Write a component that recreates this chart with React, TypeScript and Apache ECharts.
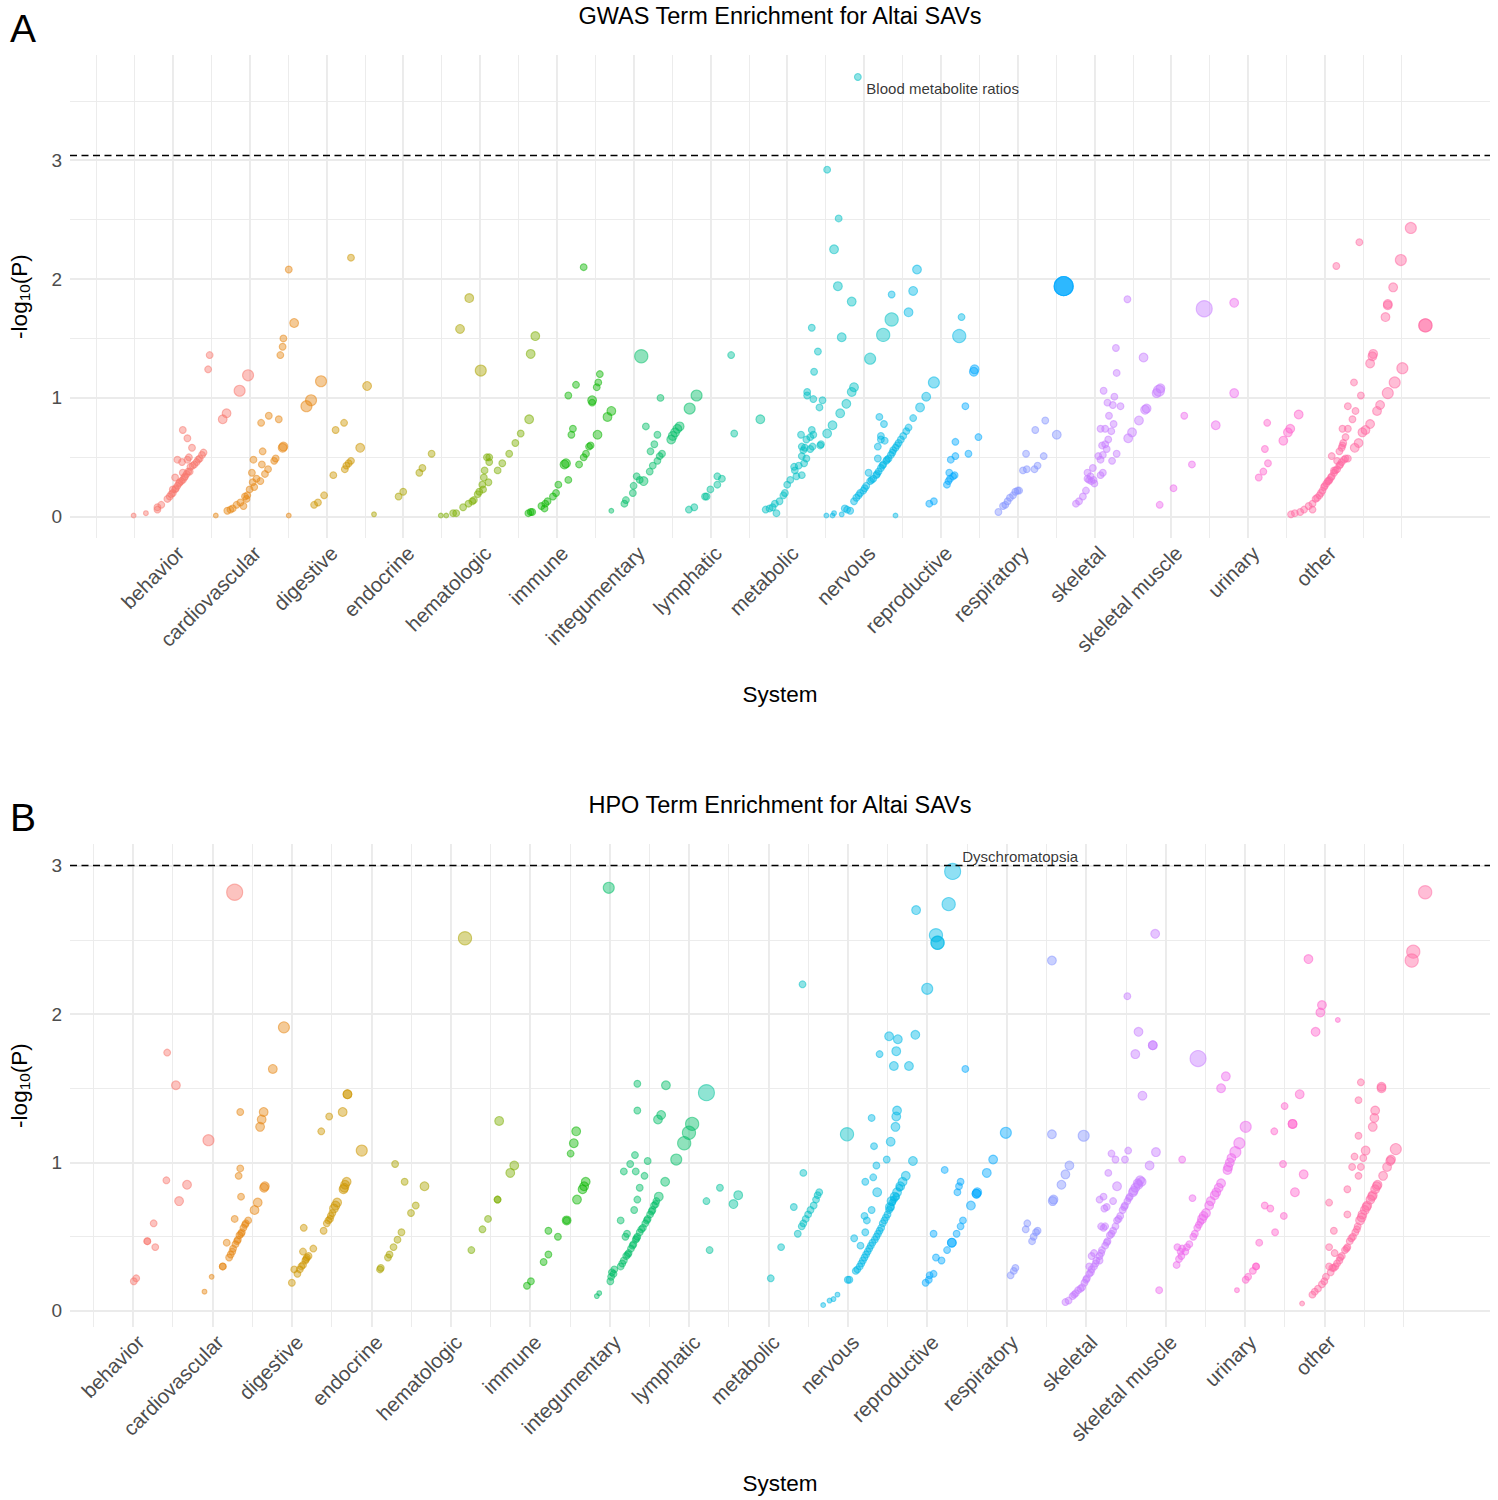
import { useEffect, useRef } from "react";
import * as echarts from "echarts";

const FONT = '"Liberation Sans", Arial, Helvetica, sans-serif';

const SYSTEMS = [
  "behavior", "cardiovascular", "digestive", "endocrine", "hematologic", "immune",
  "integumentary", "lymphatic", "metabolic", "nervous", "reproductive", "respiratory",
  "skeletal", "skeletal muscle", "urinary", "other",
];
const COLORS = [
  "#F8766D", "#E68613", "#CD9600", "#ABA300", "#7CAE00", "#0CB702", "#00BE67", "#00C19A",
  "#00BFC4", "#00B8E7", "#00A9FF", "#8494FF", "#C77CFF", "#ED68ED", "#FF61CC", "#FF68A1",
];

const X_TICKS = [1, 2, 3, 4, 5, 6, 7, 8, 9, 10, 11, 12, 13, 14, 15, 16];
const X_MINOR = [0, 0.5, 1.5, 2.5, 3.5, 4.5, 5.5, 6.5, 7.5, 8.5, 9.5, 10.5, 11.5, 12.5, 13.5, 14.5, 15.5, 16.5, 17];
const Y_TICKS = [0, 1, 2, 3];
const Y_MINOR_GWAS = [0.5, 1.5, 2.5, 3.5];
const Y_MINOR_HPO = [0.5, 1.5, 2.5];

const GWAS_THRESHOLD = 3.04;
const HPO_THRESHOLD = 3.0;
const GWAS_LABEL = { text: "Blood metabolite ratios", x: 10.03, y: 3.6 };
const HPO_LABEL = { text: "Dyschromatopsia", x: 11.44, y: 3.064 };

// [system position, -log10(P), size class]
const gwasBehavior = [
  [0.49,0.01,1],[0.65,0.03,1],[0.80,0.08,2],[0.80,0.06,2],[0.85,0.10,2],
  [0.93,0.15,2],[0.96,0.17,2],[1.00,0.20,2],[1.03,0.23,2],[1.06,0.26,2],[1.09,0.29,2],[1.13,0.31,2],[1.16,0.34,2],[1.20,0.38,2],[1.23,0.42,2],[1.28,0.44,2],[1.31,0.46,2],[1.35,0.49,2],[1.38,0.52,2],[1.40,0.54,2],
  [0.98,0.19,2],[1.04,0.24,2],[1.11,0.30,2],[1.18,0.36,2],[1.26,0.43,2],[1.33,0.48,2],[1.15,0.33,2],[1.08,0.28,2],
  [1.13,0.73,2],[1.19,0.66,2],[1.25,0.58,2],[1.06,0.48,2],[1.12,0.46,2],[1.19,0.48,2],[1.21,0.50,2],[1.03,0.33,2],[1.13,0.37,2],[1.22,0.38,2],[1.00,0.23,2],
  [1.48,1.36,2],[1.46,1.24,2],[1.65,0.82,3],[1.70,0.87,3],[1.87,1.06,4],[1.98,1.19,4],
];
const gwasCardiovascular = [
  [1.56,0.01,1],[1.71,0.05,2],[1.75,0.06,2],[1.78,0.07,2],[1.83,0.10,2],[1.88,0.12,2],[1.92,0.09,2],[1.94,0.17,2],[1.96,0.15,2],[1.97,0.18,2],
  [2.00,0.23,2],[2.04,0.29,2],[2.06,0.25,2],[2.09,0.32,2],[2.03,0.37,2],[2.05,0.48,2],[2.14,0.30,2],[2.16,0.44,2],[2.17,0.55,2],[2.20,0.36,2],
  [2.24,0.40,2],[2.15,0.79,2],[2.25,0.85,2],[2.38,0.82,2],[2.32,0.47,2],[2.34,0.49,2],[2.43,0.58,3],[2.44,0.59,3],[2.40,1.36,2],[2.43,1.43,2],
  [2.44,1.50,2],[2.51,2.08,2],[2.58,1.63,3],[2.74,0.93,4],[2.80,0.98,4],[2.93,1.14,4],[2.51,0.01,1],
];
const gwasDigestive = [
  [2.84,0.10,2],[2.89,0.12,2],[2.97,0.18,2],[3.09,0.35,2],[3.24,0.40,2],[3.26,0.43,2],[3.29,0.45,2],[3.32,0.47,2],
  [3.12,0.73,2],[3.23,0.79,2],[3.44,0.58,3],[3.32,2.18,2],[3.53,1.10,3],
];
const gwasEndocrine = [
  [3.62,0.02,1],[3.94,0.17,2],[4.00,0.21,2],[4.21,0.37,2],[4.25,0.41,2],[4.37,0.53,2],[4.74,1.58,3],[4.86,1.84,3],[5.01,1.23,4],
];
const gwasHematologic = [
  [4.49,0.01,1],[4.56,0.01,1],[4.65,0.03,2],[4.69,0.03,2],[4.78,0.08,2],[4.85,0.11,2],[4.90,0.13,2],[4.92,0.14,2],[4.97,0.19,2],[4.99,0.21,2],
  [5.04,0.23,2],[5.03,0.27,2],[5.05,0.33,2],[5.06,0.39,2],[5.11,0.29,2],[5.12,0.46,2],[5.09,0.50,2],[5.12,0.50,2],[5.23,0.39,2],[5.29,0.45,2],
  [5.38,0.53,2],[5.46,0.62,2],[5.53,0.70,2],[5.64,0.82,3],[5.66,1.37,3],[5.72,1.52,3],
];
const gwasImmune = [
  [5.63,0.03,2],[5.66,0.04,2],[5.68,0.04,2],[5.80,0.09,2],[5.84,0.07,2],[5.85,0.11,2],[5.88,0.13,2],[5.95,0.17,2],[5.99,0.20,2],[6.02,0.27,2],
  [6.10,0.44,3],[6.12,0.45,3],[6.15,0.31,2],[6.29,0.44,2],[6.35,0.50,2],[6.38,0.53,2],[6.42,0.59,2],[6.44,0.60,2],[6.53,0.69,3],[6.19,0.69,2],
  [6.21,0.74,2],[6.15,1.02,2],[6.25,1.11,2],[6.46,0.98,3],[6.46,0.96,2],[6.52,1.09,2],[6.54,1.13,2],[6.56,1.20,2],[6.35,2.10,2],[6.66,0.84,3],[6.71,0.89,3],
];
const gwasIntegumentary = [
  [6.71,0.05,1],[6.88,0.11,2],[6.90,0.14,2],[6.99,0.20,2],[7.00,0.26,2],[7.04,0.34,2],[7.08,0.31,2],[7.13,0.30,3],[7.21,0.38,2],[7.25,0.43,2],
  [7.31,0.47,2],[7.34,0.51,2],[7.37,0.53,2],[7.22,0.55,2],[7.27,0.61,2],[7.31,0.69,2],[7.16,0.76,2],[7.49,0.65,3],[7.51,0.68,3],[7.54,0.71,3],
  [7.57,0.74,3],[7.60,0.76,3],[7.35,1.00,2],[7.10,1.35,5],[7.73,0.91,4],[7.82,1.02,4],
];
const gwasLymphatic = [
  [7.72,0.06,2],[7.79,0.08,2],[7.93,0.17,2],[7.95,0.17,2],[8.00,0.23,2],[8.09,0.27,2],[8.09,0.34,2],[8.15,0.32,2],[8.27,1.36,2],[8.31,0.70,2],[8.65,0.82,3],
];
const gwasMetabolic = [
  [8.72,0.06,2],[8.77,0.07,2],[8.81,0.08,2],[8.86,0.03,2],[8.84,0.11,2],[8.90,0.13,2],[8.95,0.18,2],[8.97,0.20,2],[9.00,0.27,2],[9.04,0.31,2],
  [9.09,0.42,2],[9.10,0.39,2],[9.15,0.43,2],[9.19,0.35,2],[9.12,0.34,2],[9.22,0.45,2],[9.25,0.49,2],[9.30,0.57,2],[9.33,0.59,2],[9.19,0.51,2],
  [9.21,0.56,2],[9.23,0.58,2],[9.19,0.59,2],[9.25,0.65,2],[9.30,0.67,2],[9.32,0.73,2],[9.34,0.69,2],[9.43,0.60,2],[9.44,0.61,2],[9.18,0.69,2],
  [9.26,1.05,2],[9.26,1.02,2],[9.34,0.99,2],[9.42,0.92,2],[9.46,0.98,2],[9.35,1.22,2],[9.40,1.39,2],[9.32,1.59,2],[9.52,0.70,3],[9.59,0.77,3],
  [9.69,0.87,3],[9.77,0.95,3],[9.84,1.05,3],[9.87,1.09,3],[9.71,1.51,3],[9.66,1.94,3],[9.84,1.81,3],[9.61,2.25,3],[9.67,2.51,2],[10.08,1.33,4],
  [10.25,1.53,5],[10.36,1.66,5],[9.52,2.92,2],[9.92,3.70,2],
];
const gwasNervous = [
  [9.51,0.01,1],[9.59,0.01,1],[9.61,0.03,1],[9.71,0.02,1],[9.75,0.07,2],[9.78,0.06,2],[9.82,0.05,2],
  [9.87,0.13,2],[9.90,0.16,2],[9.95,0.20,2],[9.99,0.22,2],[10.03,0.26,2],[10.08,0.30,2],[10.12,0.32,2],[10.16,0.35,2],[10.19,0.38,2],
  [10.22,0.41,2],[10.25,0.44,2],[10.29,0.47,2],[10.32,0.49,2],[10.35,0.52,2],[10.38,0.56,2],[10.41,0.58,2],[10.45,0.62,2],[10.51,0.68,2],
  [9.93,0.18,2],[10.01,0.24,2],[10.10,0.31,2],[10.17,0.36,2],[10.24,0.43,2],[10.30,0.48,2],[10.37,0.54,2],[10.43,0.60,2],[10.48,0.65,2],
  [10.55,0.72,2],[10.58,0.75,2],[10.64,0.83,2],[10.73,0.92,3],[10.81,1.01,3],[10.91,1.13,4],
  [10.06,0.37,2],[10.18,0.49,2],[10.18,0.59,2],[10.22,0.65,2],[10.27,0.64,2],[10.20,0.84,2],[10.26,0.78,2],[10.22,0.68,2],[10.36,1.87,2],
  [10.41,0.01,1],[10.58,1.72,3],[10.64,1.90,3],[10.69,2.08,3],[11.24,1.52,5],[11.27,1.68,2],
];
const gwasReproductive = [
  [10.85,0.11,2],[10.91,0.13,2],[11.08,0.27,2],[11.10,0.30,2],[11.12,0.32,2],[11.16,0.34,2],[11.18,0.35,2],[11.11,0.37,2],[11.13,0.48,2],
  [11.19,0.51,2],[11.19,0.63,2],[11.36,0.53,2],[11.49,0.67,2],[11.32,0.93,2],[11.43,1.22,3],[11.44,1.24,3],[12.60,1.94,7],[12.60,1.94,7],[12.60,1.94,7],
];
const gwasRespiratory = [
  [11.75,0.04,2],[11.81,0.09,2],[11.84,0.10,2],[11.87,0.13,2],[11.90,0.16,2],[11.94,0.18,2],[11.97,0.21,2],[12.00,0.22,2],[12.02,0.22,2],
  [12.07,0.39,2],[12.12,0.40,2],[12.22,0.40,2],[12.26,0.43,2],[12.11,0.53,2],[12.34,0.51,2],[12.23,0.73,2],[12.36,0.81,2],[12.51,0.69,3],
];
const gwasSkeletal = [
  [12.76,0.11,2],[12.80,0.13,2],[12.85,0.17,2],[12.89,0.22,2],[12.91,0.37,2],[12.93,0.31,2],[12.96,0.30,2],[12.99,0.31,2],[12.95,0.34,2],
  [13.00,0.28,2],[12.91,0.32,2],[12.98,0.41,2],[13.05,0.51,2],[13.08,0.48,2],[13.11,0.52,2],[13.10,0.60,2],[13.14,0.61,2],[13.16,0.57,2],
  [13.08,0.35,2],[13.11,0.37,2],[13.08,0.74,2],[13.14,0.74,2],[13.22,0.72,2],[13.18,0.65,2],[13.19,0.85,2],[13.25,0.78,2],[13.23,0.47,2],
  [13.29,0.53,2],[13.12,1.06,2],[13.17,0.96,2],[13.26,1.01,2],[13.34,0.93,2],[13.24,0.94,2],[13.28,1.42,2],[13.29,1.21,2],[13.43,1.83,2],
  [13.44,0.66,3],[13.49,0.71,3],[13.58,0.81,3],[13.66,0.90,3],[13.68,0.91,3],[13.81,1.04,3],[13.84,1.06,4],[13.86,1.08,3],[13.64,1.34,3],[14.43,1.75,6],
];
const gwasSkeletalMuscle = [
  [13.85,0.10,2],[14.03,0.24,2],[14.17,0.85,2],[14.27,0.44,2],[14.58,0.77,3],[14.82,1.04,3],[14.82,1.80,3],
];
const gwasUrinary = [
  [15.14,0.33,2],[15.20,0.38,2],[15.22,0.57,2],[15.26,0.45,2],[15.25,0.79,2],[15.46,0.64,3],[15.52,0.71,3],[15.55,0.74,3],[15.66,0.86,3],
];
const gwasOther = [
  [15.56,0.02,2],[15.61,0.03,2],[15.68,0.04,2],[15.73,0.06,2],[15.79,0.09,2],[15.84,0.06,2],[15.84,0.11,2],[15.88,0.15,2],[15.90,0.16,2],
  [15.93,0.18,2],[15.95,0.20,2],[15.97,0.22,2],[15.99,0.25,2],[16.00,0.26,2],[16.02,0.28,2],[16.04,0.30,2],[16.06,0.31,2],[16.08,0.33,2],
  [16.09,0.34,2],[16.12,0.37,2],[16.14,0.39,2],[16.16,0.40,2],[16.19,0.43,2],[16.22,0.46,2],[16.25,0.48,2],[16.30,0.49,2],
  [16.20,0.44,2],[16.27,0.49,2],[16.05,0.30,2],
  [16.09,0.51,2],[16.12,0.39,2],[16.16,0.47,2],[16.19,0.55,2],[16.22,0.58,2],[16.23,0.60,2],[16.24,0.62,2],[16.23,0.74,2],[16.30,0.74,2],
  [16.27,0.67,2],[16.36,0.82,2],[16.30,0.93,2],[16.40,0.89,2],[16.38,1.13,2],[16.47,1.02,2],
  [16.39,0.58,3],[16.44,0.62,3],[16.49,0.71,3],[16.53,0.73,3],[16.59,0.78,3],[16.68,0.89,3],[16.72,0.94,3],[16.82,1.04,4],[16.91,1.13,4],
  [17.01,1.25,4],[16.59,1.29,3],[16.62,1.35,3],[16.63,1.37,3],[16.79,1.68,3],[16.82,1.78,3],[16.82,1.79,3],[16.89,1.93,3],[16.99,2.16,4],
  [17.12,2.43,4],[16.45,2.31,2],[16.15,2.11,2],[17.31,1.61,5],[17.31,1.61,5],
];

const hpoBehavior = [
  [1.01,0.20,2],[1.04,0.22,2],[1.18,0.47,2],[1.18,0.47,2],[1.26,0.59,2],[1.28,0.43,2],[1.42,0.88,2],[1.58,0.74,3],[1.68,0.85,3],
  [1.43,1.74,2],[1.54,1.52,3],[1.95,1.15,4],[2.28,2.82,6],
];
const hpoCardiovascular = [
  [1.90,0.13,1],[1.99,0.23,1],[2.13,0.30,2],[2.13,0.30,2],[2.18,0.46,2],[2.21,0.36,2],[2.23,0.38,2],[2.26,0.42,2],[2.29,0.45,2],[2.32,0.48,2],
  [2.34,0.51,2],[2.37,0.53,2],[2.39,0.56,2],[2.42,0.59,2],[2.45,0.61,2],[2.28,0.62,2],[2.36,0.77,2],[2.33,0.91,2],[2.35,0.96,2],[2.53,0.68,3],
  [2.25,0.40,2],[2.31,0.47,2],[2.36,0.52,2],[2.41,0.58,2],
  [2.57,0.73,3],[2.65,0.83,3],[2.66,0.84,3],[2.35,1.34,2],[2.60,1.24,3],[2.62,1.29,3],[2.645,1.34,3],[2.76,1.63,3],[2.90,1.91,4],
];
const hpoDigestive = [
  [3.00,0.19,2],[3.03,0.28,2],[3.07,0.25,2],[3.10,0.28,2],[3.14,0.31,2],[3.17,0.34,2],[3.19,0.36,2],[3.21,0.37,2],[3.14,0.40,2],[3.15,0.56,2],
  [3.12,0.30,2],[3.18,0.35,2],[3.48,0.62,2],[3.53,0.69,3],
  [3.27,0.42,2],[3.40,0.54,2],[3.44,0.59,2],[3.46,0.61,2],[3.49,0.64,2],[3.51,0.66,2],[3.55,0.71,3],[3.57,0.73,3],[3.65,0.82,3],[3.66,0.83,3],
  [3.67,0.85,3],[3.69,0.87,3],[3.37,1.21,2],[3.47,1.31,2],[3.64,1.34,3],[3.70,1.46,3],[3.70,1.46,3],[3.88,1.08,4],
];
const hpoEndocrine = [
  [4.11,0.28,2],[4.12,0.29,2],[4.21,0.36,2],[4.23,0.38,2],[4.28,0.43,2],[4.33,0.48,2],[4.38,0.53,2],[4.30,0.99,2],[4.42,0.87,2],[4.50,0.66,2],
  [4.56,0.71,2],[4.67,0.84,3],[5.18,2.51,5],
];
const hpoHematologic = [
  [5.26,0.41,2],[5.40,0.55,2],[5.47,0.62,2],[5.59,0.75,2],[5.59,0.75,2],[5.61,1.28,3],[5.75,0.93,3],[5.80,0.98,3],
];
const hpoImmune = [
  [5.96,0.17,2],[6.01,0.20,2],[6.17,0.33,2],[6.23,0.38,2],[6.23,0.54,2],[6.35,0.50,2],[6.46,0.61,3],[6.46,0.61,2],[6.59,0.75,3],[6.66,0.82,3],
  [6.68,0.84,3],[6.70,0.87,3],[6.51,1.06,2],[6.55,1.13,3],[6.58,1.21,3],
];
const hpoIntegumentary = [
  [6.84,0.10,1],[6.87,0.12,1],[7.01,0.20,2],[7.02,0.23,2],[7.03,0.26,2],[7.05,0.25,2],[7.06,0.28,2],
  [7.14,0.30,2],[7.18,0.34,2],[7.21,0.37,2],[7.24,0.39,2],[7.27,0.42,2],[7.30,0.45,2],[7.33,0.48,2],[7.35,0.50,2],[7.38,0.53,2],[7.42,0.56,2],
  [7.45,0.59,2],[7.48,0.62,2],[7.51,0.65,2],[7.54,0.68,2],[7.56,0.71,2],[7.59,0.74,2],[7.62,0.77,3],
  [7.16,0.32,2],[7.23,0.38,2],[7.29,0.44,2],[7.34,0.49,2],[7.40,0.55,2],[7.47,0.61,2],[7.53,0.67,2],[7.58,0.72,2],
  [7.14,0.61,2],[7.20,0.50,2],[7.22,0.52,2],[7.31,0.68,2],[7.35,0.75,2],[7.38,0.83,2],[7.44,0.91,2],[7.33,0.94,2],[7.18,0.94,2],[7.26,0.99,2],
  [7.32,1.05,2],[7.48,1.01,2],[7.35,1.35,2],[7.35,1.53,2],[7.61,1.29,3],[7.65,1.32,3],[7.71,1.52,3],[7.70,0.87,3],[6.99,2.85,4],[7.84,1.02,4],
  [7.94,1.13,5],[8.00,1.20,5],[8.04,1.26,5],
];
const hpoLymphatic = [
  [8.22,1.47,6],[8.22,0.74,2],[8.26,0.41,2],[8.39,0.83,2],[8.56,0.72,3],[8.62,0.78,3],
];
const hpoMetabolic = [
  [9.03,0.22,2],[9.16,0.43,2],[9.32,0.70,2],[9.37,0.52,2],[9.43,2.20,2],[9.44,0.93,2],[9.42,0.57,2],[9.44,0.59,2],[9.47,0.62,2],[9.50,0.65,2],
  [9.53,0.68,2],[9.57,0.71,2],[9.60,0.75,2],[9.62,0.78,2],[9.64,0.80,2],[9.99,1.19,5],
];
const hpoNervous = [
  [9.69,0.04,1],[9.77,0.07,1],[9.82,0.08,1],[9.87,0.11,1],[10.00,0.21,2],[10.02,0.21,2],
  [10.10,0.27,2],[10.15,0.30,2],[10.19,0.34,2],[10.23,0.38,2],[10.27,0.42,2],[10.31,0.46,2],[10.36,0.50,2],[10.40,0.54,2],[10.44,0.59,2],
  [10.48,0.63,2],[10.52,0.68,2],[10.56,0.73,2],[10.61,0.77,2],[10.65,0.83,2],[10.69,0.87,3],[10.73,0.91,3],
  [10.12,0.28,2],[10.17,0.32,2],[10.21,0.36,2],[10.25,0.40,2],[10.29,0.44,2],[10.34,0.48,2],[10.38,0.52,2],[10.42,0.56,2],[10.46,0.61,2],
  [10.50,0.65,2],[10.54,0.70,2],[10.58,0.75,2],
  [10.53,0.70,3],[10.55,0.74,3],[10.59,0.77,3],[10.62,0.80,3],[10.66,0.84,3],
  [10.08,0.49,2],[10.16,0.44,2],[10.22,0.53,2],[10.21,0.64,2],[10.24,0.61,2],[10.30,0.68,2],[10.22,0.87,2],[10.32,0.90,2],[10.37,0.80,3],
  [10.36,0.98,2],[10.33,1.11,2],[10.30,1.30,2],[10.49,1.02,2],[10.54,1.14,3],[10.60,1.24,3],[10.61,1.31,3],[10.62,1.35,3],[10.82,1.01,3],
  [10.40,1.73,2],[10.52,1.85,3],[10.63,1.83,3],[10.61,1.75,3],[10.58,1.65,3],[10.77,1.65,3],[10.85,1.86,3],[10.86,2.70,3],[11.00,2.17,4],
  [11.11,2.53,5],[11.13,2.48,5],[11.13,2.48,5],[11.27,2.74,5],[11.32,2.96,6],
];
const hpoReproductive = [
  [10.98,0.19,2],[11.02,0.21,2],[11.03,0.24,2],[11.08,0.25,2],[11.11,0.36,2],[11.18,0.34,2],[11.08,0.52,2],[11.25,0.41,2],[11.31,0.46,3],
  [11.31,0.46,3],[11.37,0.52,2],[11.42,0.57,2],[11.45,0.61,2],[11.55,0.71,3],[11.62,0.79,3],[11.62,0.79,3],[11.63,0.80,3],[11.38,0.80,2],
  [11.40,0.84,2],[11.42,0.87,2],[11.22,0.95,2],[11.48,1.63,2],[11.75,0.93,3],[11.83,1.02,3],[11.99,1.20,4],
];
const hpoRespiratory = [
  [12.05,0.24,2],[12.09,0.27,2],[12.11,0.29,2],[12.24,0.55,2],[12.26,0.59,2],[12.32,0.47,2],[12.34,0.50,2],[12.37,0.53,2],[12.39,0.54,2],
  [12.57,2.36,3],[12.57,1.19,3],[12.58,0.74,3],[12.59,0.75,3],[12.69,0.85,3],[12.74,0.92,3],[12.79,0.98,3],[12.97,1.18,4],
];
const hpoSkeletal = [
  [12.74,0.06,2],[12.78,0.07,2],
  [12.83,0.10,2],[12.87,0.12,2],[12.90,0.14,2],[12.95,0.16,2],[12.98,0.19,2],[13.01,0.22,2],[13.04,0.25,2],[13.07,0.28,2],[13.10,0.30,2],
  [13.13,0.34,2],[13.17,0.37,2],[13.20,0.41,2],[13.24,0.44,2],[13.27,0.47,2],[13.30,0.51,2],[13.34,0.54,2],[13.37,0.57,2],[13.39,0.61,2],
  [13.43,0.64,2],[13.46,0.68,2],[13.49,0.71,2],[13.52,0.74,2],[13.55,0.77,2],[13.59,0.80,3],[13.62,0.83,3],[13.65,0.86,3],[13.68,0.88,3],
  [12.85,0.11,2],[12.93,0.15,2],[13.00,0.21,2],[13.06,0.26,2],[13.12,0.32,2],[13.19,0.39,2],[13.26,0.46,2],[13.32,0.52,2],[13.41,0.62,2],
  [13.48,0.70,2],[13.54,0.76,2],[13.60,0.81,3],[13.66,0.85,3],
  [13.04,0.30,2],[13.07,0.37,2],[13.10,0.39,2],[13.17,0.34,2],[13.19,0.57,2],[13.22,0.56,2],[13.24,0.57,2],[13.23,0.69,2],[13.26,0.70,2],
  [13.34,0.74,2],[13.17,0.75,2],[13.22,0.77,2],[13.39,0.84,3],[13.28,0.93,2],[13.32,1.06,2],[13.37,1.02,2],[13.49,1.02,2],[13.53,1.08,2],
  [13.70,0.87,3],[13.80,0.98,3],[13.88,1.07,3],
  [13.52,2.12,2],[13.66,1.88,3],[13.62,1.73,3],[13.84,1.79,3],[13.84,1.79,3],[13.71,1.45,3],[13.87,2.54,3],[14.41,1.70,6],
];
const hpoSkeletalMuscle = [
  [13.92,0.14,2],[14.14,0.31,2],[14.17,0.35,2],[14.15,0.43,2],[14.19,0.40,2],[14.21,0.42,2],[14.20,0.37,2],[14.25,0.40,2],[14.27,0.43,2],
  [14.30,0.45,2],[14.37,0.52,2],[14.40,0.56,2],[14.44,0.60,2],[14.48,0.64,3],[14.51,0.66,3],[14.57,0.74,3],[14.34,0.76,2],[14.64,0.80,3],
  [14.35,0.50,2],[14.42,0.58,2],[14.46,0.62,3],[14.55,0.71,3],[14.62,0.78,3],[14.81,1.00,3],
  [14.67,0.83,3],[14.70,0.86,3],[14.78,0.95,3],[14.79,0.97,3],[14.83,1.03,3],[14.88,1.07,4],[14.93,1.13,4],[15.01,1.24,4],[14.21,1.02,2],
  [14.70,1.50,3],[14.76,1.58,3],
];
const hpoUrinary = [
  [14.90,0.14,1],[15.01,0.21,2],[15.04,0.23,2],[15.10,0.27,2],[15.14,0.30,2],[15.14,0.30,2],[15.18,0.46,2],[15.25,0.71,2],[15.32,0.69,2],
  [15.38,0.53,2],[15.49,0.64,2],[15.37,1.21,2],[15.48,0.99,2],[15.50,1.38,2],[15.60,1.26,3],[15.60,1.26,3],[15.63,0.80,3],[15.69,1.46,3],
  [15.74,0.92,3],[15.80,2.37,3],[15.97,2.06,3],[15.95,2.01,3],[15.89,1.88,3],[16.17,1.96,1],
];
const hpoOther = [
  [15.72,0.05,1],[15.85,0.11,2],[15.88,0.13,2],[15.92,0.15,2],[15.97,0.18,2],[16.00,0.20,2],[16.02,0.23,2],
  [16.08,0.26,2],[16.12,0.29,2],[16.16,0.32,2],[16.19,0.34,2],[16.22,0.37,2],[16.26,0.41,2],[16.29,0.43,2],[16.32,0.47,2],[16.36,0.50,2],
  [16.39,0.53,2],[16.42,0.57,2],[16.45,0.61,3],[16.48,0.65,3],[16.51,0.68,3],[16.54,0.71,3],[16.58,0.75,3],[16.61,0.78,3],[16.64,0.82,3],
  [16.67,0.85,3],[16.74,0.91,3],[16.79,0.97,3],[16.83,1.01,3],[16.84,1.02,3],[16.90,1.09,4],
  [16.14,0.30,2],[16.20,0.36,2],[16.28,0.42,2],[16.34,0.49,2],[16.41,0.55,2],[16.47,0.63,3],[16.53,0.70,3],[16.60,0.77,3],[16.66,0.84,3],
  [16.06,0.73,2],[16.06,0.43,2],[16.12,0.54,2],[16.13,0.39,2],[16.06,0.30,2],[16.10,0.29,2],[16.29,0.82,2],[16.29,0.65,2],[16.35,0.97,2],
  [16.38,1.04,2],[16.43,0.91,2],[16.46,0.97,2],[16.49,1.03,2],[16.52,1.08,3],[16.43,1.18,2],[16.43,1.42,2],[16.46,1.54,2],[16.61,1.24,3],
  [16.63,1.30,3],[16.64,1.35,3],[16.72,1.51,3],[16.72,1.50,3],
  [17.27,2.82,5],[17.12,2.42,5],[17.10,2.36,5],
];

const GWAS_GROUPS = [
  gwasBehavior, gwasCardiovascular, gwasDigestive, gwasEndocrine, gwasHematologic, gwasImmune, gwasIntegumentary,
  gwasLymphatic, gwasMetabolic, gwasNervous, gwasReproductive, gwasRespiratory, gwasSkeletal, gwasSkeletalMuscle,
  gwasUrinary, gwasOther,
];
const HPO_GROUPS = [
  hpoBehavior, hpoCardiovascular, hpoDigestive, hpoEndocrine, hpoHematologic, hpoImmune, hpoIntegumentary,
  hpoLymphatic, hpoMetabolic, hpoNervous, hpoReproductive, hpoRespiratory, hpoSkeletal, hpoSkeletalMuscle,
  hpoUrinary, hpoOther,
];

const SIZE_PX = [0, 4.8, 6.8, 8.8, 11, 13.2, 16, 19];

function rgba(hex: string, a: number) {
  const n = parseInt(hex.slice(1), 16);
  return `rgba(${(n >> 16) & 255},${(n >> 8) & 255},${n & 255},${a})`;
}

function isInt(v: number) {
  return Math.abs(v - Math.round(v)) < 1e-6;
}

function buildOption() {
  const panels = [
    {
      top: 55, xMin: -0.3385, xMax: 18.151, yMin: -0.179, yMax: 3.885,
      groups: GWAS_GROUPS, threshold: GWAS_THRESHOLD, label: GWAS_LABEL, yMinor: Y_MINOR_GWAS,
    },
    {
      top: 844, xMin: 0.2065, xMax: 18.086, yMin: -0.108, yMax: 3.145,
      groups: HPO_GROUPS, threshold: HPO_THRESHOLD, label: HPO_LABEL, yMinor: Y_MINOR_HPO,
    },
  ];
  const grid: any[] = [];
  const xAxis: any[] = [];
  const yAxis: any[] = [];
  const series: any[] = [];
  const GRID_COLOR = "#EBEBEB";

  panels.forEach((p, i) => {
    grid.push({ left: 70, top: p.top, width: 1420, height: 483, containLabel: false, outerBoundsMode: "none" });
    xAxis.push({
      type: "value", gridIndex: i, min: p.xMin, max: p.xMax, minInterval: 1, maxInterval: 1,
      axisLine: { show: false }, axisTick: { show: false }, splitLine: { show: false },
      axisLabel: {
        show: true, customValues: X_TICKS, interval: 0, hideOverlap: false, rotate: 45,
        align: "right", verticalAlign: "top", margin: 4, fontSize: 20.5, color: "#4D4D4D", fontFamily: FONT,
        formatter: (v: number) => {
          const k = Math.round(v);
          return isInt(v) && k >= 1 && k <= SYSTEMS.length ? SYSTEMS[k - 1] : "";
        },
      },
      name: "System", nameLocation: "middle", nameGap: 145,
      nameTextStyle: { fontSize: 22.5, color: "#000", fontFamily: FONT },
    });
    yAxis.push({
      type: "value", gridIndex: i, min: p.yMin, max: p.yMax, minInterval: 1, maxInterval: 1,
      axisLine: { show: false }, axisTick: { show: false }, splitLine: { show: false },
      axisLabel: {
        show: true, customValues: Y_TICKS, margin: 8, fontSize: 19, color: "#4D4D4D", fontFamily: FONT,
        formatter: (v: number) => (isInt(v) && v >= 0 ? String(Math.round(v)) : ""),
      },
      name: "-log{sub|10}(P)", nameLocation: "middle", nameGap: 38, nameRotate: 90,
      nameTextStyle: {
        fontSize: 22.5, color: "#000", fontFamily: FONT,
        rich: { sub: { fontSize: 15.5, color: "#000", fontFamily: FONT, padding: [10, 0, 0, 0] } },
      },
    });

    const lines: any[] = [];
    X_MINOR.filter((v) => v > p.xMin && v < p.xMax).forEach((v) =>
      lines.push({ xAxis: v, lineStyle: { color: GRID_COLOR, width: 0.95, type: "solid" } }));
    X_TICKS.filter((v) => v > p.xMin && v < p.xMax).forEach((v) =>
      lines.push({ xAxis: v, lineStyle: { color: GRID_COLOR, width: 1.9, type: "solid" } }));
    p.yMinor.filter((v) => v > p.yMin && v < p.yMax).forEach((v) =>
      lines.push({ yAxis: v, lineStyle: { color: GRID_COLOR, width: 0.95, type: "solid" } }));
    Y_TICKS.filter((v) => v > p.yMin && v < p.yMax).forEach((v) =>
      lines.push({ yAxis: v, lineStyle: { color: GRID_COLOR, width: 1.9, type: "solid" } }));

    series.push({
      type: "scatter", xAxisIndex: i, yAxisIndex: i, data: [], silent: true, z: 0,
      markLine: { silent: true, z: 0, symbol: ["none", "none"], label: { show: false }, animation: false, data: lines },
    });

    p.groups.forEach((pts, gi) => {
      series.push({
        type: "scatter", name: SYSTEMS[gi], xAxisIndex: i, yAxisIndex: i, data: pts, z: 2,
        symbol: "circle", symbolSize: (v: number[]) => SIZE_PX[v[2]],
        itemStyle: { color: rgba(COLORS[gi], 0.55), borderColor: rgba(COLORS[gi], 0.65), borderWidth: 1.1 },
        emphasis: { disabled: true }, silent: true, clip: false,
      });
    });

    series.push({
      type: "scatter", xAxisIndex: i, yAxisIndex: i, data: [], silent: true, z: 3,
      markLine: {
        silent: true, z: 3, symbol: ["none", "none"], label: { show: false }, animation: false,
        data: [{ yAxis: p.threshold, lineStyle: { color: "#000", width: 1.4, type: [7, 4.5] } }],
      },
    });

    series.push({
      type: "scatter", xAxisIndex: i, yAxisIndex: i, data: [[p.label.x, p.label.y]], z: 10,
      symbolSize: 0.1, itemStyle: { color: "rgba(0,0,0,0)" }, silent: true,
      label: {
        show: true, position: "right", distance: 0, formatter: p.label.text,
        fontSize: 15, color: "#000", fontFamily: FONT,
      },
    });
  });

  const graphic = [
    { type: "text", x: 780, y: 16, z: 10, style: { text: "GWAS Term Enrichment for Altai SAVs", fontSize: 23.5, fontFamily: FONT, fill: "#000", align: "center", verticalAlign: "middle" } },
    { type: "text", x: 10, y: 28, z: 10, style: { text: "A", fontSize: 39, fontFamily: FONT, fill: "#000", align: "left", verticalAlign: "middle" } },
    { type: "text", x: 780, y: 805, z: 10, style: { text: "HPO Term Enrichment for Altai SAVs", fontSize: 23.5, fontFamily: FONT, fill: "#000", align: "center", verticalAlign: "middle" } },
    { type: "text", x: 10, y: 817, z: 10, style: { text: "B", fontSize: 39, fontFamily: FONT, fill: "#000", align: "left", verticalAlign: "middle" } },
  ];

  return { animation: false, backgroundColor: "#fff", grid, xAxis, yAxis, series, graphic, tooltip: { show: false } };
}

export default function App() {
  const ref = useRef<HTMLDivElement>(null);
  useEffect(() => {
    if (!ref.current) return;
    const chart = echarts.init(ref.current, null, { renderer: "svg" });
    chart.setOption(buildOption() as any);
    return () => chart.dispose();
  }, []);
  return (
    <div
      ref={ref}
      style={{ position: "absolute", left: 0, top: 0, width: 1498, height: 1500, background: "#fff" }}
    />
  );
}
